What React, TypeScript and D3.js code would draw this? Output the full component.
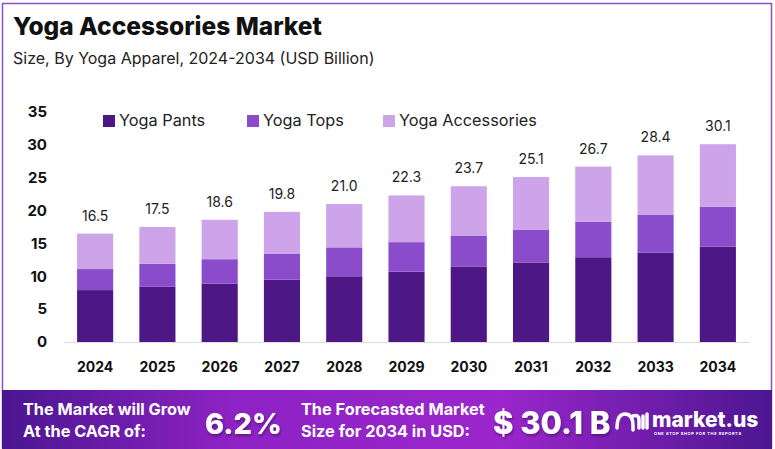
import React from 'react';
import * as d3 from 'd3';

const years = ['2024', '2025', '2026', '2027', '2028', '2029', '2030', '2031', '2032', '2033', '2034'];
const yogaPants = [7.9, 8.4, 8.9, 9.5, 10.0, 10.7, 11.5, 12.1, 12.9, 13.6, 14.5];
const yogaTops = [3.2, 3.5, 3.7, 3.9, 4.4, 4.5, 4.7, 5.0, 5.4, 5.8, 6.1];
const yogaAccessories = [5.4, 5.6, 6.0, 6.4, 6.6, 7.1, 7.5, 8.0, 8.4, 9.0, 9.5];
const totals = ['16.5', '17.5', '18.6', '19.8', '21.0', '22.3', '23.7', '25.1', '26.7', '28.4', '30.1'];
const yTicks = [0, 5, 10, 15, 20, 25, 30, 35];

const seriesNames = ['Yoga Pants', 'Yoga Tops', 'Yoga Accessories'];
const colors = ['#4e1786', '#8b4ccb', '#cda3e9'];

const font = "Inter, 'Open Sans', sans-serif";

export default function App() {
  const width = 775;
  const height = 449;

  const x = d3.scaleBand().domain(years).range([64, 749]).paddingInner(0.42).paddingOuter(0.21);
  const y = d3.scaleLinear().domain([0, 35]).range([342, 112]);

  const table = years.map((yr, i) => ({
    year: yr,
    'Yoga Pants': yogaPants[i],
    'Yoga Tops': yogaTops[i],
    'Yoga Accessories': yogaAccessories[i],
  }));
  const stacked = d3.stack().keys(seriesNames)(table as any);

  const legendX = [103, 247, 383];

  return (
    <svg width={width} height={height} style={{ position: 'absolute', left: 0, top: 0 }} fontFamily={font}>
      <defs>
        <linearGradient id="foot" x1="0" x2="1" y1="0" y2="0">
          <stop offset="0" stopColor="#4a1690" />
          <stop offset="0.3" stopColor="#8e22c4" />
          <stop offset="0.65" stopColor="#9a26cc" />
          <stop offset="1" stopColor="#4c1690" />
        </linearGradient>
        <filter id="sh" x="-10%" y="-10%" width="130%" height="130%">
          <feDropShadow dx="1" dy="2" stdDeviation="1.5" floodColor="#000" floodOpacity="0.35" />
        </filter>
      </defs>
      <rect x={0} y={0} width={width} height={height} fill="#fff" />
      <rect x={2.5} y={3.5} width={769} height={444} fill="none" stroke="#8a4fc9" strokeWidth={1.5} />

      <text x={13} y={35} fontSize={24.5} fontWeight={800} fill="#111">Yoga Accessories Market</text>
      <text x={13} y={64} fontSize={16} fill="#222">Size, By Yoga Apparel, 2024-2034 (USD Billion)</text>

      {seriesNames.map((s, i) => (
        <g key={s}>
          <rect x={legendX[i]} y={115} width={12} height={12} fill={colors[i]} />
          <text x={legendX[i] + 16} y={126} fontSize={16.3} fill="#222">{s}</text>
        </g>
      ))}

      {yTicks.map((t) => (
        <text key={t} x={47} y={y(t)} dy="0.35em" textAnchor="end" fontSize={15} fontWeight={700} fill="#111">{t}</text>
      ))}

      <line x1={64} x2={750} y1={y(0) + 0.5} y2={y(0) + 0.5} stroke="#dcdcdc" />

      {stacked.map((layer, li) => (
        <g key={li} fill={colors[li]}>
          {layer.map((d, i) => (
            <rect key={i} x={x(years[i])} y={y(d[1])} width={x.bandwidth()} height={y(d[0]) - y(d[1])} />
          ))}
        </g>
      ))}

      {years.map((yr, i) => (
        <text key={yr} x={(x(yr) as number) + x.bandwidth() / 2} y={y(+totals[i]) - 13} textAnchor="middle" fontSize={14} fill="#222">{totals[i]}</text>
      ))}

      {years.map((yr) => (
        <text key={yr} x={(x(yr) as number) + x.bandwidth() / 2} y={372} textAnchor="middle" fontSize={14} fontWeight={700} fill="#111">{yr}</text>
      ))}

      <rect x={2} y={390} width={770} height={59} fill="url(#foot)" />
      <g fill="#fff" fontWeight={700}>
        <text x={23} y={415} fontSize={16.3}>The Market will Grow</text>
        <text x={23} y={437} fontSize={16.3}>At the CAGR of:</text>
        <text x={205} y={434} fontSize={29} fontWeight={800} filter="url(#sh)">6.2%</text>
        <text x={301} y={415} fontSize={16.3}>The Forecasted Market</text>
        <text x={301} y={437} fontSize={16.3}>Size for 2034 in USD:</text>
        <text x={493} y={434} fontSize={31} fontWeight={800} filter="url(#sh)">$ 30.1 B</text>
        <path d="M617,428 q0,-14 8,-14 q8,0 8,12 v4 M633,416 q6,-2 6,4 v8 M643,416 v12 M647,414 v14" stroke="#fff" strokeWidth={3.5} fill="none" strokeLinecap="round" />
        <text x={652} y={427} fontSize={21} fontWeight={800}>market.us</text>
        <text x={654} y={435} fontSize={4} fontWeight={700} letterSpacing={0.6}>ONE STOP SHOP FOR THE REPORTS</text>
      </g>
    </svg>
  );
}
